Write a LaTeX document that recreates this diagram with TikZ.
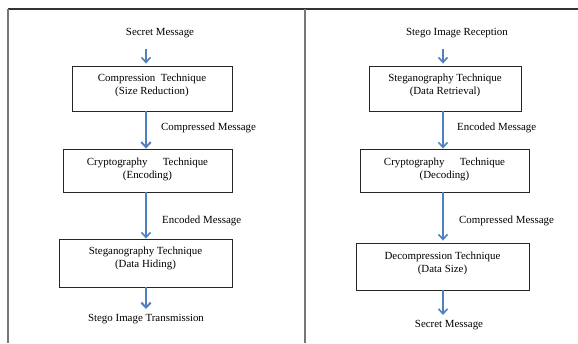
\documentclass[tikz,border=0pt]{standalone}
\usepackage{fontspec}
\setmainfont{Liberation Serif}
\usetikzlibrary{arrows.meta}
\definecolor{arrblue}{HTML}{4F81BD}
\definecolor{framegray}{HTML}{777777}
\definecolor{topgray}{HTML}{333333}
\begin{document}
\begin{tikzpicture}[x=1pt,y=-1pt,
  every node/.style={font=\fontsize{10.9}{13}\selectfont, inner sep=0pt},
  box/.style={draw=black!85, line width=0.9pt},
  txt/.style={align=center},
  lbl/.style={anchor=west},
  flow/.style={draw=arrblue, line width=1.5pt, -{Straight Barb[length=5pt,width=9pt,line width=1.6pt]}},
  thick flow/.style={draw=arrblue, line width=2.8pt, -{Straight Barb[length=5pt,width=9.5pt,line width=2pt]}}
]
\useasboundingbox (0,0) rectangle (578,343);
% frame
\draw[topgray, line width=1.1pt] (8,9) -- (578,9);
\draw[framegray, line width=1.1pt] (8,9) -- (8,343);
\draw[framegray, line width=1.1pt] (305,9) -- (305,343);

% x positions of arrows
\coordinate (lx) at (146,0);
\coordinate (rx) at (443,0);

% left column
\node (lt) at (160,33) {Secret Message};
\node[box, minimum width=160, minimum height=45] (l1) at (152,88.5) {};
\node[txt] (l1t) at ([yshift=3.5pt]l1.center) {Compression\ \ Technique\\(Size Reduction)};
\node[box, minimum width=169, minimum height=43] (l2) at (147.5,170.5) {};
\node[txt] (l2t) at ([yshift=1.5pt]l2.center) {Cryptography\hspace{1.4em}Technique\\(Encoding)};
\node[box, minimum width=173, minimum height=48] (l3) at (145.5,263) {};
\node[txt] (l3t) at ([yshift=4.5pt]l3.center) {Steganography Technique\\(Data Hiding)};
\node (lb) at (146,319) {Stego Image Transmission};
\node[lbl] (lc) at (161,128) {Compressed Message};
\node[lbl] (le) at (162,221) {Encoded Message};

\draw[flow] ([yshift=-11pt]lt.south -| lx) -- ([yshift=2pt]l1.north -| lx);
\draw[thick flow] (l1.south -| lx) -- (l2.north -| lx);
\draw[flow] (l2.south -| lx) -- (l3.north -| lx);
\draw[thick flow] (l3.south -| lx) -- ([yshift=5pt]lb.north -| lx);

% right column
\node (rt) at (457,33) {Stego Image Reception};
\node[box, minimum width=152, minimum height=45] (r1) at (445,88.5) {};
\node[txt] (r1t) at ([yshift=3.5pt]r1.center) {Steganography Technique\\(Data Retrieval)};
\node[box, minimum width=169, minimum height=43] (r2) at (444.5,170.5) {};
\node[txt] (r2t) at ([yshift=1.5pt]r2.center) {Cryptography\hspace{1.4em}Technique\\(Decoding)};
\node[box, minimum width=173, minimum height=47] (r3) at (442.5,266.5) {};
\node[txt] (r3t) at ([yshift=3.5pt]r3.center) {Decompression Technique\\(Data Size)};
\node (rb) at (449,325) {Secret Message};
\node[lbl] (re) at (457,128) {Encoded Message};
\node[lbl] (rc) at (459,221) {Compressed Message};

\draw[flow] ([yshift=-11pt]rt.south -| rx) -- ([yshift=2pt]r1.north -| rx);
\draw[flow] (r1.south -| rx) -- (r2.north -| rx);
\draw[flow] (r2.south -| rx) -- ([yshift=2pt]r3.north -| rx);
\draw[flow] (r3.south -| rx) -- ([yshift=5pt]rb.north -| rx);
\end{tikzpicture}
\end{document}
